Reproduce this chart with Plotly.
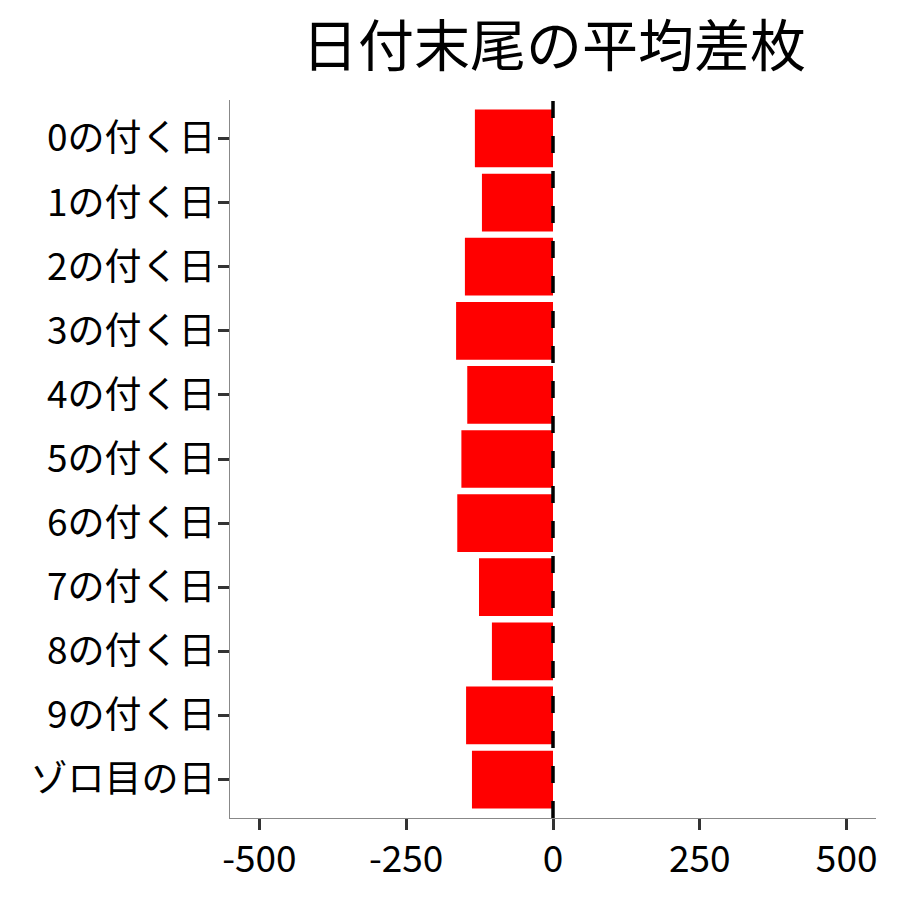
import plotly.graph_objects as go

categories = ["0の付く日", "1の付く日", "2の付く日", "3の付く日", "4の付く日",
              "5の付く日", "6の付く日", "7の付く日", "8の付く日", "9の付く日", "ゾロ目の日"]
values = [-133, -121, -150, -165, -146, -156, -163, -126, -104, -148, -138]
x_ticks = [-500, -250, 0, 250, 500]
title_text = "日付末尾の平均差枚"

FONT = "Noto Sans CJK JP"

fig = go.Figure()
fig.add_trace(go.Bar(
    x=values, y=categories, orientation="h",
    marker=dict(color="#FF0000", line=dict(width=0)),
    width=0.9,
))
fig.add_shape(type="line", xref="x", yref="paper", x0=0, x1=0, y0=0, y1=1,
              line=dict(color="black", width=3.5, dash="17px,18px"), layer="above")

fig.update_layout(
    width=900, height=900,
    margin=dict(l=222, r=32, t=92, b=90),
    plot_bgcolor="white", paper_bgcolor="white",
    showlegend=False,
    font=dict(family=FONT, color="black"),
    title=dict(text=title_text, x=546/900, xanchor="center", y=1-38/900, yanchor="middle",
               font=dict(family=FONT, size=56, color="black")),
    bargap=0.1,
)
fig.update_xaxes(
    range=[-550, 550], tickvals=x_ticks, ticktext=[str(v) for v in x_ticks],
    showgrid=False, zeroline=False, showline=True, linecolor="#888888", linewidth=1.3,
    ticks="outside", ticklen=11, tickwidth=3, tickcolor="#333333",
    ticklabelstandoff=-3,
    tickfont=dict(family=FONT, size=37, color="black"),
)
fig.update_yaxes(
    categoryorder="array", categoryarray=categories, range=[10.6, -0.6],
    showgrid=False, zeroline=False, showline=True, linecolor="#888888", linewidth=1.3,
    ticks="outside", ticklen=11, tickwidth=3, tickcolor="#333333",
    ticklabelstandoff=-5,
    tickfont=dict(family=FONT, size=37, color="black"),
)
fig.write_html("out.html")
